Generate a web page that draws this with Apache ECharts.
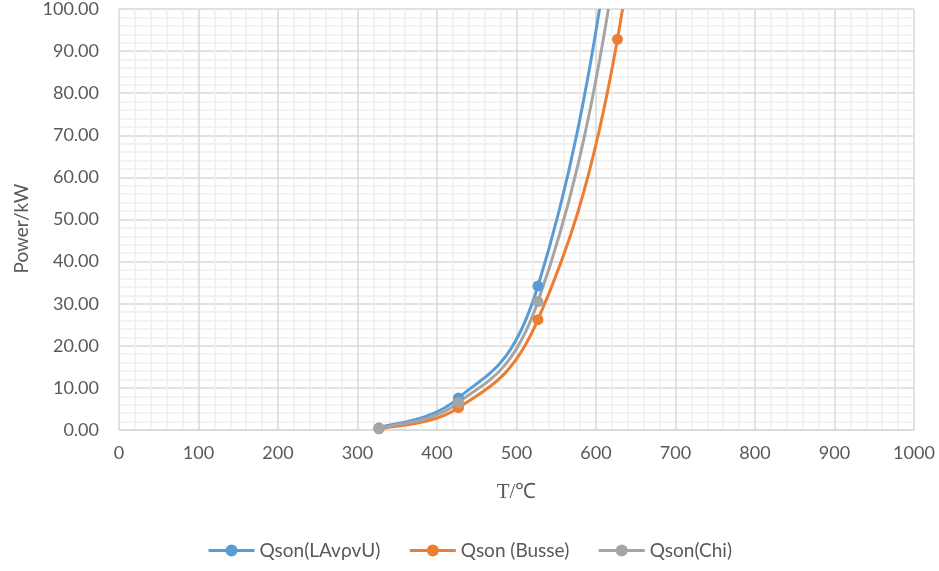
<!DOCTYPE html>
<html>
<head>
<meta charset="utf-8">
<script src="https://cdn.jsdelivr.net/npm/echarts@6/dist/echarts.min.js"></script>
<style>
  html, body { margin: 0; padding: 0; background: #fff; }
  #main { width: 939px; height: 571px; }
</style>
</head>
<body>
<div id="main"></div>
<script>
// temperatures (℃) of the measured points
var temps = [327, 427, 527, 627, 727];
// power values, kW (points above 100 are clipped by the axis)
var qLav = [0.5, 7.6, 34.2, 130, 330];
var qBusse = [0.3, 5.3, 26.2, 92.8, 240];
var qChi = [0.4, 6.5, 30.5, 114, 290];
var seriesNames = ['Qson(LAvρvU)', 'Qson (Busse)', 'Qson(Chi)'];
var colors = ['#5B9BD5', '#ED7D31', '#A5A5A5'];

function pairs(xs, ys) {
    return xs.map(function (x, i) { return [x, ys[i]]; });
}

// excel-like smoothed line (catmull-rom through the points, in pixel space)
function curveRenderer(data, color) {
    return function (params, api) {
        if (params.dataIndex !== 0) return;
        var p = data.map(function (d) { return api.coord(d); });
        var n = p.length;
        var path = 'M' + p[0][0] + ' ' + p[0][1];
        for (var i = 0; i < n - 1; i++) {
            var a = p[Math.max(i - 1, 0)], b = p[i], c = p[i + 1], d = p[Math.min(i + 2, n - 1)];
            var c1x = b[0] + (c[0] - a[0]) / 6, c1y = b[1] + (c[1] - a[1]) / 6;
            var c2x = c[0] - (d[0] - b[0]) / 6, c2y = c[1] - (d[1] - b[1]) / 6;
            path += ' C' + c1x + ' ' + c1y + ' ' + c2x + ' ' + c2y + ' ' + c[0] + ' ' + c[1];
        }
        var cs = params.coordSys;
        return {
            type: 'path',
            shape: { pathData: path },
            style: { fill: null, stroke: color, lineWidth: 3 },
            clipPath: { type: 'rect', shape: { x: cs.x, y: cs.y, width: cs.width, height: cs.height } }
        };
    };
}

var chart = echarts.init(document.getElementById('main'));
var allData = [qLav, qBusse, qChi];
var font = 'Lato';

var curves = allData.map(function (d, i) {
    var pts = pairs(temps, d);
    return {
        name: seriesNames[i] + ' curve',
        type: 'custom',
        data: pts,
        encode: { x: 0, y: 1 },
        renderItem: curveRenderer(pts, colors[i]),
        z: 2
    };
});
var markers = allData.map(function (d, i) {
    return {
        name: seriesNames[i],
        type: 'line',
        clip: true,
        symbol: 'circle',
        symbolSize: 11,
        data: pairs(temps, d),
        itemStyle: { color: colors[i] },
        lineStyle: { width: 3, color: colors[i], opacity: 0 },
        z: 3
    };
});

chart.setOption({
    animation: false,
    grid: { left: 119, right: 25, top: 7, bottom: 141 },
    legend: {
        bottom: 6,
        left: 'center',
        itemWidth: 46,
        itemHeight: 15,
        itemGap: 28,
        lineStyle: { opacity: 1, width: 3 },
        textStyle: { color: '#595959', fontSize: 19, fontFamily: font },
        data: seriesNames
    },
    xAxis: {
        type: 'value',
        min: 0,
        max: 1000,
        interval: 100,
        name: 'T/℃',
        nameLocation: 'middle',
        nameGap: 52,
        nameTextStyle: { color: '#595959', fontSize: 21, fontFamily: 'Liberation Serif' },
        axisLine: { lineStyle: { color: '#d9d9d9', width: 1.5 } },
        axisTick: { show: false },
        axisLabel: {
            color: '#595959', fontSize: 18, fontFamily: font, margin: 14,
            formatter: function (v) { return String(v); }
        },
        splitLine: { lineStyle: { color: '#d9d9d9', width: 1.5 } },
        minorTick: { show: false, splitNumber: 5 },
        minorSplitLine: { show: true, lineStyle: { color: '#f0f0f0', width: 1.5 } }
    },
    yAxis: {
        type: 'value',
        min: 0,
        max: 100,
        interval: 10,
        name: 'Power/kW',
        nameLocation: 'middle',
        nameGap: 88,
        nameTextStyle: { color: '#595959', fontSize: 19, fontFamily: font, padding: [0, 0, 0, -18] },
        axisLine: { show: false },
        axisTick: { show: false },
        axisLabel: {
            color: '#595959', fontSize: 18, fontFamily: font, margin: 20,
            formatter: function (v) { return v.toFixed(2); }
        },
        splitLine: { lineStyle: { color: '#d9d9d9', width: 1.5 } },
        minorTick: { show: false, splitNumber: 5 },
        minorSplitLine: { show: true, lineStyle: { color: '#f0f0f0', width: 1.5 } }
    },
    series: curves.concat(markers)
});
</script>
</body>
</html>
